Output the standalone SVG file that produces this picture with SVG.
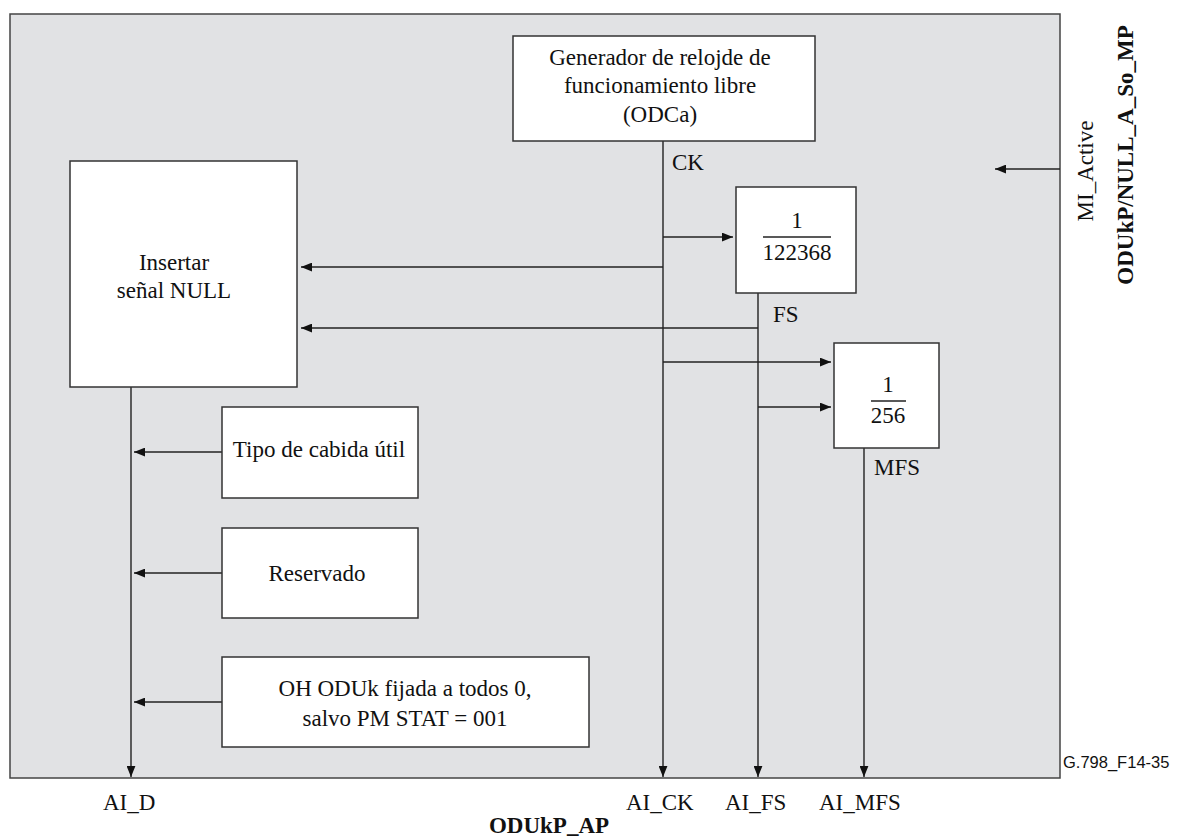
<svg xmlns="http://www.w3.org/2000/svg" width="1177" height="839" viewBox="0 0 1177 839">
<style>
text{font-family:"Liberation Serif","Times New Roman",serif;font-size:23px;fill:#111}
.b{font-weight:bold}
.c{text-anchor:middle}
.box{fill:#fff;stroke:#333;stroke-width:1.5}
.ln{stroke:#222;stroke-width:1.4;fill:none}
.arr{marker-end:url(#ah)}
.id{font-family:"Liberation Sans",Arial,sans-serif;font-size:16.5px}
</style>
<defs>
<marker id="ah" viewBox="0 0 10 8" refX="10" refY="4" markerWidth="11" markerHeight="9" markerUnits="userSpaceOnUse" orient="auto">
<path d="M0,0 L10,4 L0,8 Z" fill="#111"/>
</marker>
</defs>
<rect id="frame" x="10" y="14" width="1050" height="764" fill="#e1e2e4" stroke="#444" stroke-width="1.5"/>
<g id="connectors">
<line class="ln arr" x1="663" y1="141" x2="663" y2="777"/>
<line class="ln arr" x1="663" y1="237" x2="733" y2="237"/>
<line class="ln arr" x1="663" y1="267" x2="301" y2="267"/>
<line class="ln arr" x1="663" y1="362" x2="831" y2="362"/>
<line class="ln arr" x1="758" y1="293" x2="758" y2="777"/>
<line class="ln arr" x1="758" y1="328" x2="301" y2="328"/>
<line class="ln arr" x1="758" y1="407" x2="831" y2="407"/>
<line class="ln arr" x1="864" y1="448" x2="864" y2="777"/>
<line class="ln arr" x1="131" y1="387" x2="131" y2="777"/>
<line class="ln arr" x1="222" y1="452" x2="134" y2="452"/>
<line class="ln arr" x1="222" y1="573" x2="134" y2="573"/>
<line class="ln arr" x1="222" y1="702" x2="134" y2="702"/>
<line class="ln arr" x1="1060" y1="169" x2="995" y2="169"/>
</g>
<g id="generator">
<rect class="box" x="513" y="36" width="302" height="105"/>
<text class="c" x="660" y="65">Generador de relojde de</text>
<text class="c" x="660" y="93">funcionamiento libre</text>
<text class="c" x="660" y="122">(ODCa)</text>
</g>
<g id="div122368">
<rect class="box" x="736" y="187" width="120" height="106"/>
<text class="c" x="797" y="228">1</text>
<line x1="763" y1="237" x2="831" y2="237" stroke="#222" stroke-width="1.3"/>
<text class="c" x="797" y="260">122368</text>
</g>
<g id="div256">
<rect class="box" x="834" y="343" width="105" height="105"/>
<text class="c" x="888" y="392">1</text>
<line x1="871" y1="401" x2="906" y2="401" stroke="#222" stroke-width="1.3"/>
<text class="c" x="888" y="423">256</text>
</g>
<g id="insertar">
<rect class="box" x="70" y="161" width="227" height="226"/>
<text class="c" x="174" y="270">Insertar</text>
<text class="c" x="174" y="298">señal NULL</text>
</g>
<g id="tipo">
<rect class="box" x="222" y="407" width="196" height="91"/>
<text class="c" x="319" y="457">Tipo de cabida útil</text>
</g>
<g id="reservado">
<rect class="box" x="222" y="528" width="196" height="90"/>
<text class="c" x="317" y="581">Reservado</text>
</g>
<g id="oh">
<rect class="box" x="222" y="657" width="367" height="90"/>
<text class="c" x="405" y="696">OH ODUk fijada a todos 0,</text>
<text class="c" x="405" y="726">salvo PM STAT = 001</text>
</g>
<g id="labels">
<text x="672" y="170">CK</text>
<text x="773" y="322">FS</text>
<text x="874" y="475">MFS</text>
<text x="103" y="810">AI_D</text>
<text x="626" y="810">AI_CK</text>
<text x="725" y="810">AI_FS</text>
<text x="819" y="810">AI_MFS</text>
<text class="b c" x="549" y="833">ODUkP_AP</text>
<text class="c" transform="translate(1093,171) rotate(-90)">MI_Active</text>
<text class="b c" transform="translate(1133,155) rotate(-90)">ODUkP/NULL_A_So_MP</text>
<text class="id" x="1063" y="768">G.798_F14-35</text>
</g>
</svg>
